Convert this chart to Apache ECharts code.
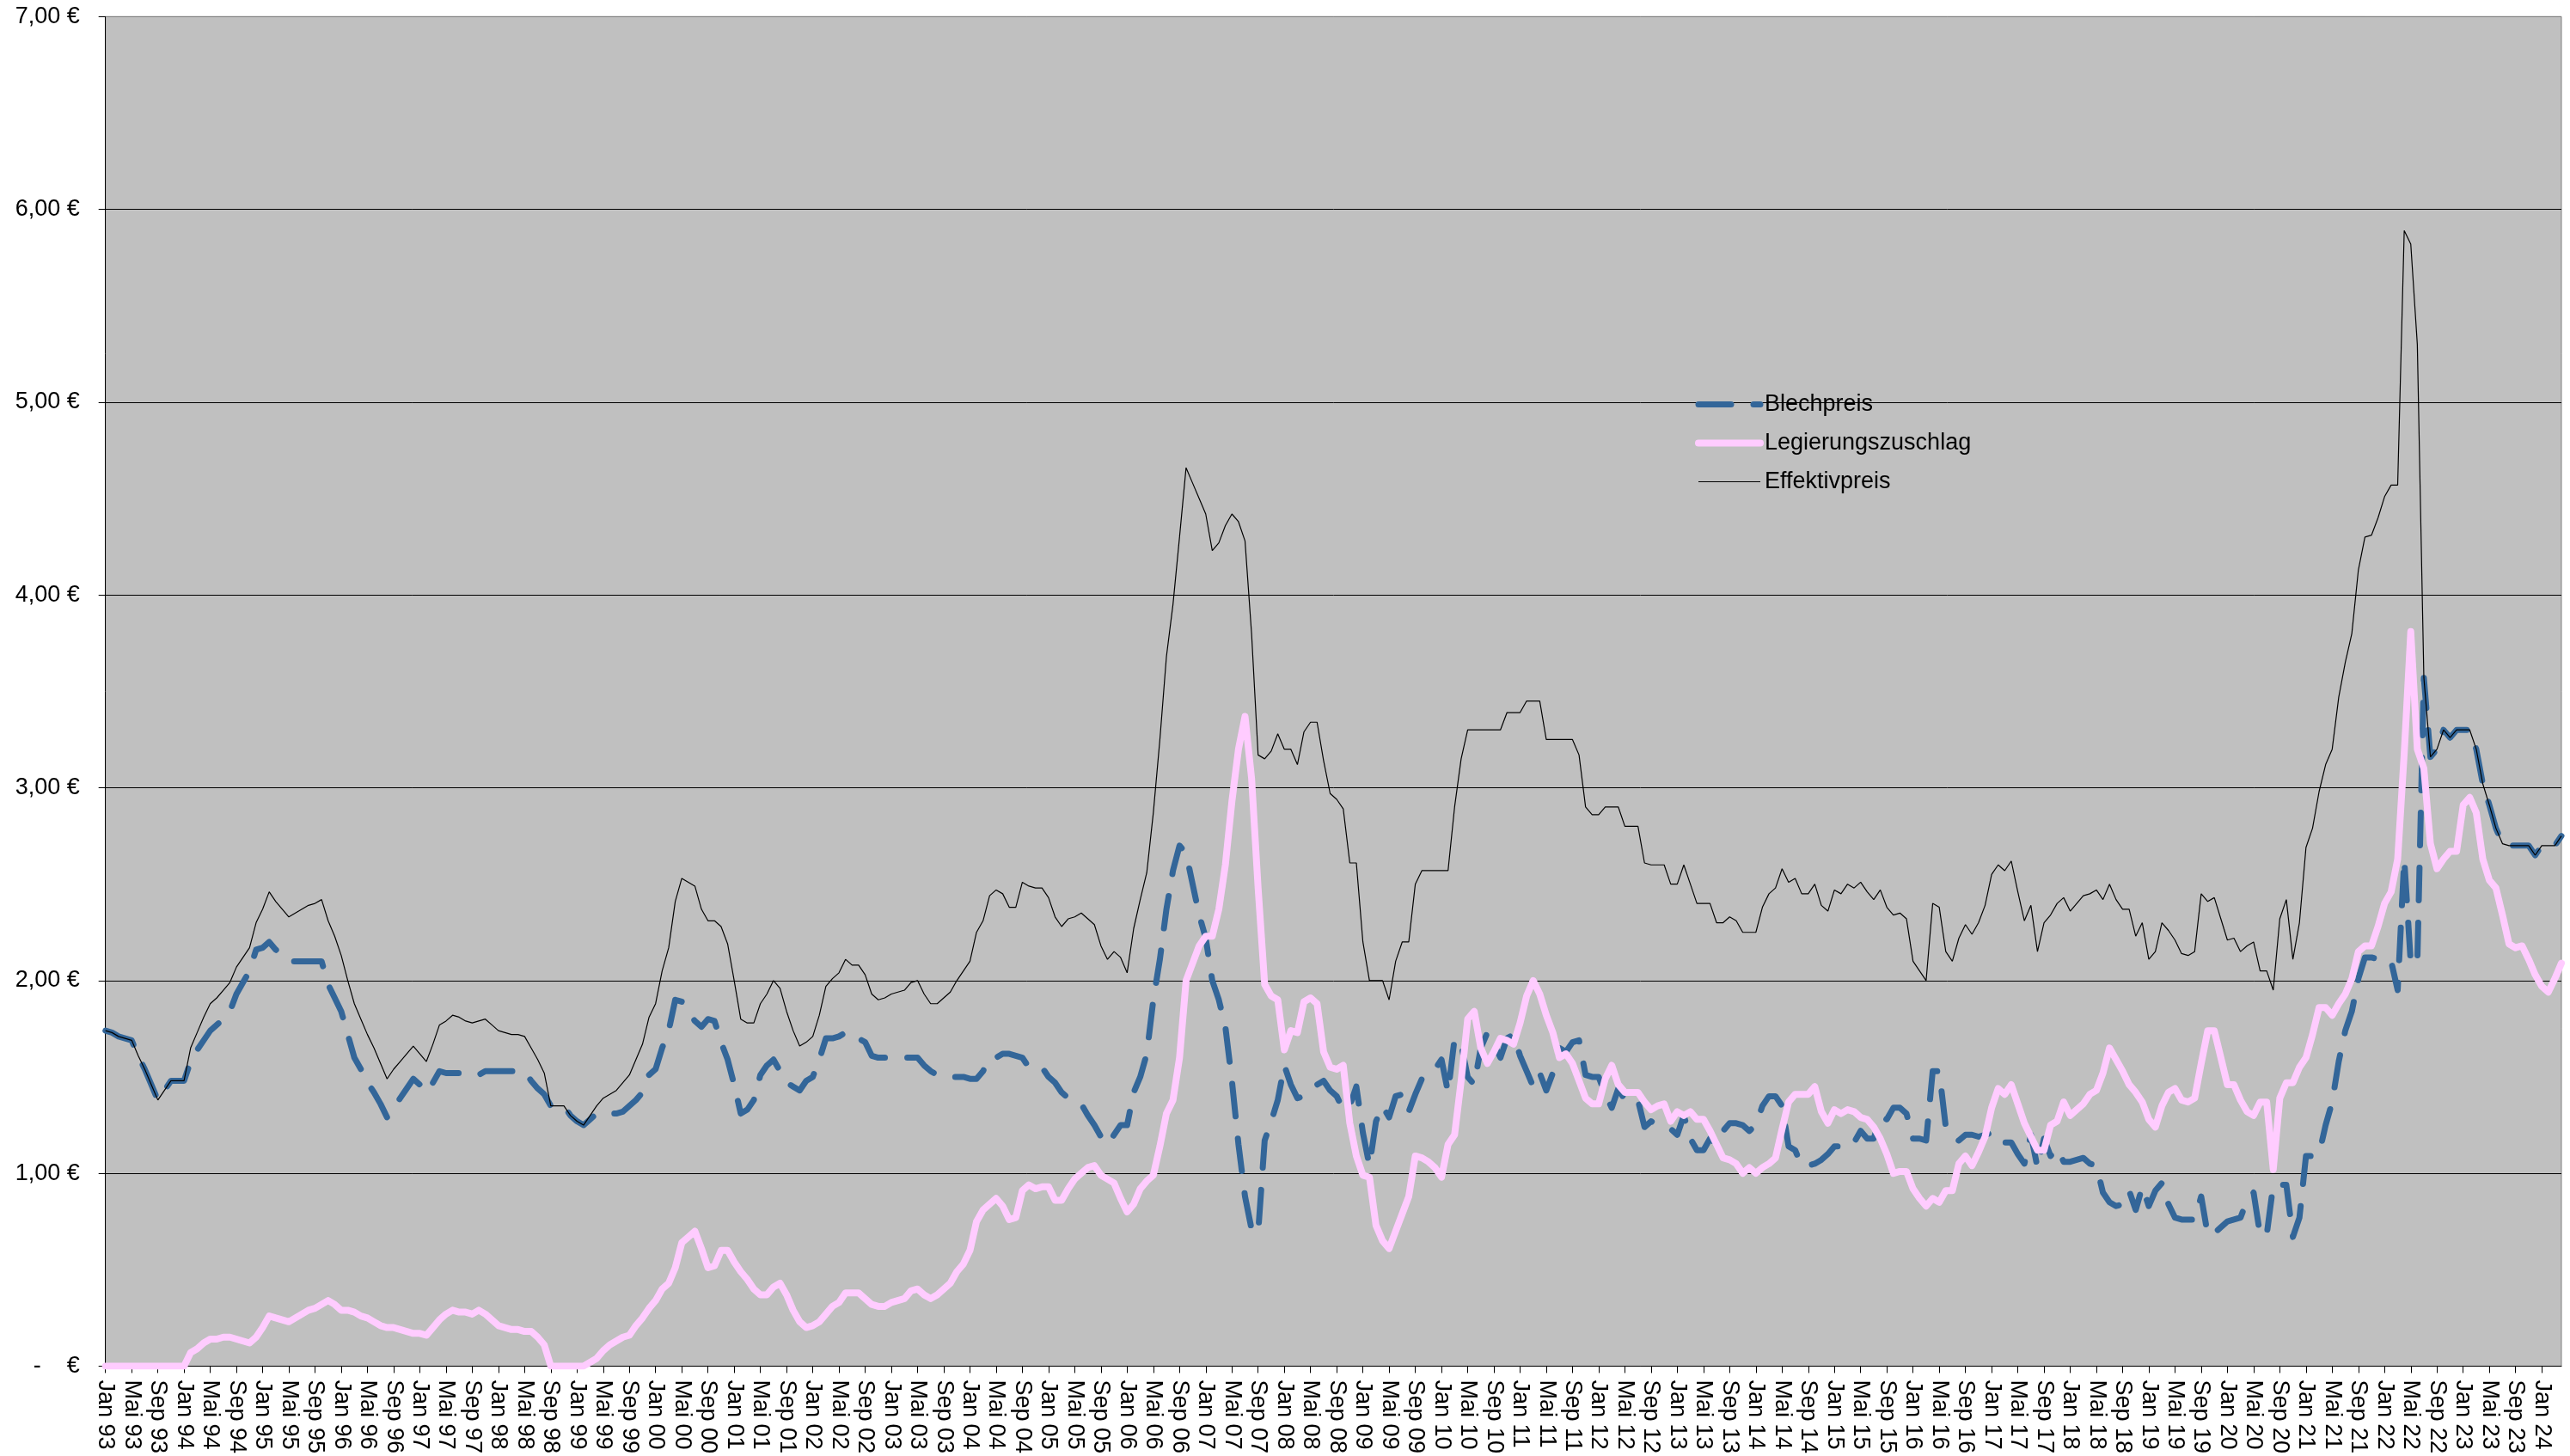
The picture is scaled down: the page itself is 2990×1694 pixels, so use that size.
<!DOCTYPE html>
<html>
<head>
<meta charset="utf-8">
<script src="https://cdn.jsdelivr.net/npm/echarts@6/dist/echarts.min.js"></script>
<style>
  html, body { margin: 0; padding: 0; background: #ffffff; }
  #chart { width: 2990px; height: 1694px; }
</style>
</head>
<body>
<div id="chart"></div>
<script>
// Monthly prices from Jan 1993 to Apr 2024 (EUR per kg)
const monthNames = ['Jan','Feb','Mär','Apr','Mai','Jun','Jul','Aug','Sep','Okt','Nov','Dez'];
const startYear = 1993;

const blechpreis = [
  1.74,1.73,1.71,1.70,1.69,1.61,1.54,1.46,1.38,1.43,1.48,1.48,
  1.48,1.58,1.64,1.69,1.74,1.77,1.80,1.84,1.93,1.99,2.05,2.16,
  2.17,2.20,2.16,2.13,2.10,2.10,2.10,2.10,2.10,2.10,1.98,1.91,
  1.84,1.72,1.60,1.54,1.47,1.42,1.36,1.29,1.34,1.39,1.44,1.49,
  1.46,1.42,1.47,1.53,1.52,1.52,1.52,1.51,1.51,1.51,1.53,1.53,
  1.53,1.53,1.53,1.53,1.53,1.48,1.44,1.41,1.35,1.35,1.35,1.30,
  1.27,1.25,1.28,1.31,1.31,1.31,1.31,1.32,1.35,1.38,1.42,1.51,
  1.54,1.65,1.74,1.90,1.89,1.84,1.79,1.76,1.80,1.79,1.68,1.59,
  1.46,1.31,1.33,1.38,1.51,1.56,1.59,1.53,1.47,1.45,1.43,1.48,
  1.50,1.59,1.70,1.70,1.71,1.73,1.70,1.70,1.68,1.61,1.60,1.60,
  1.60,1.60,1.60,1.60,1.60,1.56,1.53,1.51,1.50,1.50,1.50,1.50,
  1.49,1.49,1.53,1.60,1.60,1.62,1.62,1.61,1.60,1.55,1.55,1.55,
  1.50,1.47,1.42,1.39,1.37,1.36,1.30,1.25,1.19,1.15,1.20,1.25,
  1.25,1.42,1.50,1.62,1.90,2.11,2.37,2.57,2.70,2.66,2.50,2.34,
  2.22,2.00,1.90,1.76,1.48,1.15,0.88,0.71,0.69,1.17,1.27,1.38,
  1.56,1.46,1.39,1.40,1.43,1.46,1.48,1.43,1.40,1.33,1.35,1.45,
  1.21,1.04,1.27,1.35,1.29,1.40,1.41,1.32,1.41,1.49,1.51,1.54,
  1.59,1.42,1.70,1.67,1.50,1.46,1.65,1.73,1.67,1.60,1.70,1.72,
  1.61,1.53,1.45,1.52,1.43,1.52,1.65,1.63,1.68,1.69,1.51,1.50,
  1.50,1.41,1.34,1.44,1.38,1.38,1.38,1.24,1.27,1.25,1.24,1.23,
  1.20,1.30,1.18,1.12,1.12,1.18,1.15,1.22,1.26,1.26,1.25,1.22,
  1.25,1.35,1.40,1.40,1.35,1.14,1.12,1.04,1.04,1.05,1.07,1.10,
  1.14,1.14,1.17,1.16,1.22,1.18,1.18,1.29,1.28,1.34,1.34,1.31,
  1.18,1.18,1.17,1.53,1.53,1.24,1.19,1.17,1.20,1.20,1.19,1.20,
  1.21,1.16,1.16,1.16,1.10,1.05,1.20,1.03,1.18,1.09,1.13,1.06,
  1.06,1.07,1.08,1.05,1.04,0.90,0.85,0.83,0.84,0.91,0.81,0.93,
  0.83,0.91,0.95,0.84,0.77,0.76,0.76,0.76,0.88,0.68,0.69,0.72,
  0.75,0.76,0.77,0.86,0.90,0.68,0.68,0.94,0.94,0.94,0.67,0.77,
  1.09,1.09,1.10,1.25,1.37,1.58,1.74,1.84,2.01,2.12,2.12,2.11,
  2.10,2.10,1.95,2.63,2.09,2.09,3.57,3.16,3.20,3.30,3.26,3.30,
  3.30,3.30,3.20,3.02,2.91,2.79,2.71,2.70,2.70,2.70,2.70,2.65,
  2.70,2.70,2.70,2.75
];

const legierungszuschlag = [
  0,0,0,0,0,0,0,0,0,0,0,0,
  0,0.07,0.09,0.12,0.14,0.14,0.15,0.15,0.14,0.13,0.12,0.15,
  0.20,0.26,0.25,0.24,0.23,0.25,0.27,0.29,0.30,0.32,0.34,0.32,
  0.29,0.29,0.28,0.26,0.25,0.23,0.21,0.20,0.20,0.19,0.18,0.17,
  0.17,0.16,0.20,0.24,0.27,0.29,0.28,0.28,0.27,0.29,0.27,0.24,
  0.21,0.20,0.19,0.19,0.18,0.18,0.15,0.11,0,0,0,0,
  0,0,0.02,0.04,0.08,0.11,0.13,0.15,0.16,0.21,0.25,0.30,
  0.34,0.40,0.43,0.51,0.64,0.67,0.70,0.61,0.51,0.52,0.60,0.60,
  0.54,0.49,0.45,0.40,0.37,0.37,0.41,0.43,0.37,0.29,0.23,0.20,
  0.21,0.23,0.27,0.31,0.33,0.38,0.38,0.38,0.35,0.32,0.31,0.31,
  0.33,0.34,0.35,0.39,0.40,0.37,0.35,0.37,0.40,0.43,0.49,0.53,
  0.60,0.75,0.81,0.84,0.87,0.83,0.76,0.77,0.91,0.94,0.92,0.93,
  0.93,0.86,0.86,0.92,0.97,1.00,1.03,1.04,0.99,0.97,0.95,0.87,
  0.80,0.84,0.92,0.96,0.99,1.14,1.31,1.38,1.60,2.00,2.09,2.18,
  2.23,2.23,2.37,2.60,2.93,3.20,3.37,3.05,2.48,1.98,1.92,1.90,
  1.64,1.74,1.73,1.89,1.91,1.88,1.63,1.55,1.54,1.56,1.26,1.09,
  0.99,0.98,0.73,0.65,0.61,0.70,0.79,0.88,1.09,1.08,1.06,1.03,
  0.98,1.15,1.20,1.48,1.80,1.84,1.65,1.57,1.63,1.70,1.69,1.67,
  1.78,1.92,2.00,1.93,1.82,1.73,1.60,1.62,1.57,1.48,1.39,1.36,
  1.36,1.49,1.56,1.46,1.42,1.42,1.42,1.37,1.33,1.35,1.36,1.27,
  1.32,1.30,1.32,1.28,1.28,1.22,1.15,1.08,1.07,1.05,1.00,1.03,
  1.00,1.03,1.05,1.08,1.23,1.37,1.41,1.41,1.41,1.45,1.32,1.26,
  1.33,1.31,1.33,1.32,1.29,1.28,1.24,1.18,1.10,1.00,1.01,1.01,
  0.92,0.87,0.83,0.87,0.85,0.91,0.91,1.05,1.09,1.04,1.11,1.19,
  1.34,1.44,1.41,1.46,1.36,1.26,1.19,1.12,1.12,1.25,1.27,1.37,
  1.30,1.33,1.36,1.41,1.43,1.52,1.65,1.59,1.53,1.46,1.42,1.37,
  1.28,1.24,1.35,1.42,1.44,1.38,1.37,1.39,1.57,1.74,1.74,1.60,
  1.46,1.46,1.38,1.32,1.30,1.37,1.37,1.02,1.39,1.47,1.47,1.55,
  1.60,1.72,1.86,1.86,1.82,1.88,1.93,2.01,2.15,2.18,2.18,2.28,
  2.40,2.46,2.63,3.18,3.81,3.20,3.10,2.71,2.58,2.63,2.67,2.67,
  2.91,2.95,2.87,2.63,2.52,2.48,2.34,2.19,2.17,2.18,2.11,2.03,
  1.97,1.94,2.01,2.09
];

const effektivpreis = [
  1.74,1.73,1.71,1.70,1.69,1.61,1.54,1.46,1.38,1.43,1.48,1.48,
  1.48,1.65,1.73,1.81,1.88,1.91,1.95,1.99,2.07,2.12,2.17,2.30,
  2.37,2.46,2.41,2.37,2.33,2.35,2.37,2.39,2.40,2.42,2.31,2.23,
  2.13,2.00,1.88,1.80,1.72,1.65,1.57,1.49,1.54,1.58,1.62,1.66,
  1.62,1.58,1.67,1.77,1.79,1.82,1.81,1.79,1.78,1.79,1.80,1.77,
  1.74,1.73,1.72,1.72,1.71,1.65,1.59,1.52,1.35,1.35,1.35,1.30,
  1.27,1.25,1.30,1.35,1.39,1.41,1.43,1.47,1.51,1.59,1.67,1.81,
  1.88,2.05,2.17,2.41,2.53,2.51,2.49,2.37,2.31,2.31,2.28,2.19,
  2.00,1.80,1.78,1.78,1.88,1.93,2.00,1.96,1.84,1.74,1.66,1.68,
  1.71,1.82,1.97,2.01,2.04,2.11,2.08,2.08,2.03,1.93,1.90,1.91,
  1.93,1.94,1.95,1.99,2.00,1.93,1.88,1.88,1.91,1.94,2.00,2.05,
  2.10,2.25,2.31,2.44,2.47,2.45,2.38,2.38,2.51,2.49,2.48,2.48,
  2.43,2.33,2.28,2.32,2.33,2.35,2.32,2.29,2.18,2.11,2.15,2.12,
  2.04,2.27,2.42,2.56,2.87,3.25,3.68,3.95,4.30,4.66,4.58,4.50,
  4.42,4.23,4.27,4.36,4.42,4.38,4.28,3.80,3.17,3.15,3.19,3.28,
  3.20,3.20,3.12,3.29,3.34,3.34,3.14,2.97,2.94,2.89,2.61,2.61,
  2.20,2.00,2.00,2.00,1.90,2.10,2.20,2.20,2.50,2.57,2.57,2.57,
  2.57,2.57,2.90,3.15,3.30,3.30,3.30,3.30,3.30,3.30,3.39,3.39,
  3.39,3.45,3.45,3.45,3.25,3.25,3.25,3.25,3.25,3.17,2.90,2.86,
  2.86,2.90,2.90,2.90,2.80,2.80,2.80,2.61,2.60,2.60,2.60,2.50,
  2.50,2.60,2.50,2.40,2.40,2.40,2.30,2.30,2.33,2.31,2.25,2.25,
  2.25,2.38,2.45,2.48,2.58,2.51,2.53,2.45,2.45,2.50,2.39,2.36,
  2.47,2.45,2.50,2.48,2.51,2.46,2.42,2.47,2.38,2.34,2.35,2.32,
  2.10,2.05,2.00,2.40,2.38,2.15,2.10,2.22,2.29,2.24,2.30,2.39,
  2.55,2.60,2.57,2.62,2.46,2.31,2.39,2.15,2.30,2.34,2.40,2.43,
  2.36,2.40,2.44,2.45,2.47,2.42,2.50,2.42,2.37,2.37,2.23,2.30,
  2.11,2.15,2.30,2.26,2.21,2.14,2.13,2.15,2.45,2.41,2.43,2.32,
  2.21,2.22,2.15,2.18,2.20,2.05,2.05,1.95,2.32,2.42,2.11,2.30,
  2.69,2.79,2.98,3.12,3.20,3.47,3.65,3.80,4.13,4.30,4.31,4.40,
  4.51,4.57,4.57,5.89,5.82,5.30,3.57,3.16,3.20,3.30,3.26,3.30,
  3.30,3.30,3.20,3.02,2.91,2.79,2.71,2.70,2.70,2.70,2.70,2.65,
  2.70,2.70,2.70,2.75
];

const yTickLabels = ['-    €', '1,00 €', '2,00 €', '3,00 €', '4,00 €', '5,00 €', '6,00 €', '7,00 €'];

// Category labels such as "Jan 93", "Mai 93", ...
const months = blechpreis.map((_, i) =>
  monthNames[i % 12] + ' ' + String((startYear + Math.floor(i / 12)) % 100).padStart(2, '0'));

const FONT = '"Liberation Sans", Arial, sans-serif';
const BLUE = '#336699';
const PINK = '#FFCCFF';
const BLUE_DASH = [38, 26];

const chart = echarts.init(document.getElementById('chart'), null, { renderer: 'canvas' });
chart.setOption({
  animation: false,
  backgroundColor: '#ffffff',
  textStyle: { fontFamily: FONT },
  grid: {
    left: 122.7, right: 10, top: 19.3, bottom: 104,
    show: true, backgroundColor: '#C0C0C0', borderColor: '#808080', borderWidth: 1
  },
  legend: {
    orient: 'vertical',
    left: 1967, top: 452,
    itemWidth: 72, itemHeight: 14, itemGap: 18,
    textStyle: { fontSize: 27, color: '#000', fontFamily: FONT },
    itemStyle: { opacity: 0 },
    data: [
      { name: 'Blechpreis', itemStyle: { opacity: 0 },
        lineStyle: { color: BLUE, width: 7, type: BLUE_DASH, cap: 'round' } },
      { name: 'Legierungszuschlag', itemStyle: { opacity: 0 },
        lineStyle: { color: PINK, width: 8, type: 'solid', cap: 'round' } },
      { name: 'Effektivpreis', itemStyle: { opacity: 0 },
        lineStyle: { color: '#000', width: 1.2, type: 'solid' } }
    ]
  },
  xAxis: {
    type: 'category',
    data: months,
    boundaryGap: false,
    axisLine: { lineStyle: { color: '#000', width: 1 } },
    axisTick: { interval: 3, length: 8, lineStyle: { color: '#000' } },
    axisLabel: { interval: 3, rotate: -90, margin: 16, fontSize: 27, color: '#000', fontFamily: FONT }
  },
  yAxis: {
    type: 'value',
    min: 0, max: 7, interval: 1,
    axisLine: { show: true, lineStyle: { color: '#000', width: 1 } },
    axisTick: { show: true, length: 8, lineStyle: { color: '#000' } },
    axisLabel: {
      margin: 30, fontSize: 27, color: '#000', fontFamily: FONT,
      formatter: (v) => yTickLabels[Math.round(v)]
    },
    splitLine: {
      show: true,
      lineStyle: { color: ['#000', '#000', '#000', '#000', '#000', '#000', '#000', '#808080'], width: 1 }
    }
  },
  series: [
    {
      name: 'Blechpreis', type: 'line', data: blechpreis, symbol: 'none',
      itemStyle: { color: BLUE },
      lineStyle: { color: BLUE, width: 7, type: BLUE_DASH, cap: 'round', join: 'round' }
    },
    {
      name: 'Legierungszuschlag', type: 'line', data: legierungszuschlag, symbol: 'none',
      itemStyle: { color: PINK },
      lineStyle: { color: PINK, width: 8, cap: 'round', join: 'round' }
    },
    {
      name: 'Effektivpreis', type: 'line', data: effektivpreis, symbol: 'none',
      itemStyle: { color: '#000' },
      lineStyle: { color: '#000', width: 1.2 }
    }
  ]
});
</script>
</body>
</html>
